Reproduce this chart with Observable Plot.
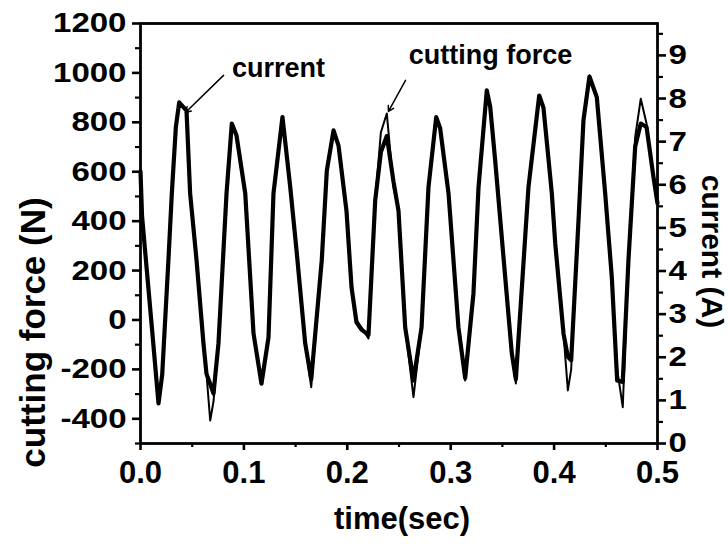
<!DOCTYPE html>
<html><head><meta charset="utf-8">
<script src="https://cdn.jsdelivr.net/npm/d3@7"></script>
<script src="https://cdn.jsdelivr.net/npm/@observablehq/plot@0.6"></script>
<style>
html,body{margin:0;padding:0;background:#fff;}
</style>
</head><body><div id="chart"></div>
<script>
// time (s)
const time = [0.000,0.0015,0.011,0.0174,0.021,0.027,0.0303,0.0342,0.0374,0.0445,
  0.048,0.0542,0.0609,0.0638,0.0674,0.0706,0.0754,0.0832,0.0883,0.0928,
  0.1013,0.1093,0.117,0.1238,0.1286,0.1373,0.1448,0.1509,0.1593,0.1651,
  0.1753,0.1802,0.1867,0.1915,0.1992,0.2041,0.2089,0.2137,0.2205,0.227,
  0.2325,0.2382,0.2447,0.2495,0.256,0.264,0.2718,0.2785,0.286,0.2898,
  0.2979,0.3075,0.314,0.322,0.3269,0.3349,0.3382,0.343,0.3527,0.3591,
  0.363,0.3752,0.3856,0.3897,0.3978,0.4011,0.4091,0.4133,0.4165,0.4236,
  0.4284,0.4342,0.4413,0.4494,0.4558,0.461,0.4664,0.4719,0.4784,0.4838,
  0.4894,0.4961,0.5];
// cutting force (N)
const cuttingForce = [600,420,-30,-338,-220,241,512,780,882,848,
  512,241,-95,-217,-407,-330,-95,512,795,747,
  512,-55,-257,-71,512,821,538,281,-95,-272,
  241,605,767,706,443,131,0,-30,-75,484,
  760,836,537,443,-30,-312,-30,537,821,775,
  512,-30,-245,107,537,929,862,646,173,-136,
  -257,537,909,860,512,310,-55,-285,-200,403,
  808,990,902,512,173,-200,-353,241,740,895,
  795,578,472];
// current (A)
const current = [6.31,5.27,2.69,0.93,1.60,4.25,5.80,7.34,7.91,7.72,
  5.80,4.25,2.32,1.62,1.38,1.16,2.32,5.80,7.42,7.15,
  5.80,2.55,1.39,2.46,5.80,7.57,5.95,4.48,2.32,1.49,
  4.25,6.33,7.26,6.91,5.40,3.62,2.81,2.64,2.52,5.64,
  6.76,7.13,6.07,5.40,2.69,1.46,2.69,5.94,7.57,7.31,
  5.80,2.69,1.52,3.48,5.94,8.19,7.81,6.57,3.86,2.09,
  1.49,5.94,8.07,7.79,5.80,4.64,2.55,2.01,1.93,5.17,
  7.50,8.51,8.03,5.80,3.86,1.46,1.43,4.25,6.88,7.42,
  7.34,6.18,5.57];

const forceTicks = [-400,-200,0,200,400,600,800,1000,1200];
const forceMinorTicks = [-500,-300,-100,100,300,500,700,900,1100];
const currentTicks = [0,1,2,3,4,5,6,7,8,9];
const currentMinorTicks = [0.5,1.5,2.5,3.5,4.5,5.5,6.5,7.5,8.5,9.5];
const timeTicks = [0,0.1,0.2,0.3,0.4,0.5];
const timeMinorTicks = [0.05,0.15,0.25,0.35,0.45];
const forceDomain = [-500,1200];
const currentDomain = [0,9.74];
const timeDomain = [0,0.5];

const annotationLabels = ["current","cutting force"];
const annotationT = [0.1335,0.3385];
const annotationF = [1020,1072];
const pointerFromT = [0.0803,0.2563];
const pointerFromF = [990,970];
const pointerToT = [0.0435,0.2398];
const pointerToF = [840,844];

const toForce = a => forceDomain[0] + (a - currentDomain[0]) / (currentDomain[1] - currentDomain[0]) * (forceDomain[1] - forceDomain[0]);

const forceData = time.map((t,i) => ({t, v: cuttingForce[i]}));
const currentData = time.map((t,i) => ({t, v: toForce(current[i])}));
const annotations = annotationLabels.map((s,i) => ({s, t: annotationT[i], f: annotationF[i]}));
const pointers = pointerFromT.map((t,i) => ({t1: t, f1: pointerFromF[i], t2: pointerToT[i], f2: pointerToF[i]}));

const font = "'Liberation Sans', Arial, sans-serif";

const chart = Plot.plot({
  width: 728,
  height: 546,
  marginLeft: 140,
  marginRight: 71,
  marginTop: 23,
  marginBottom: 103,
  style: {fontFamily: font, fontWeight: "bold", fontSize: "27px", color: "#000", background: "#fff"},
  x: {domain: timeDomain, label: null},
  y: {domain: forceDomain, label: null},
  marks: [
    Plot.line(currentData, {x: "t", y: "v", stroke: "#000", strokeWidth: 4.2, strokeLinejoin: "round"}),
    Plot.line(forceData, {x: "t", y: "v", stroke: "#000", strokeWidth: 2, strokeLinejoin: "round"}),
    Plot.frame({stroke: "#000", strokeWidth: 2.8}),
    Plot.axisY(forceTicks, {anchor: "left", tickSize: 8, tickPadding: 6, strokeWidth: 2.6, tickFormat: d => String(d), label: null, fontSize: 28}),
    Plot.axisY(forceMinorTicks, {anchor: "left", tickSize: 5, strokeWidth: 2.2, tickFormat: () => "", label: null}),
    Plot.axisY(currentTicks.map(toForce), {anchor: "right", tickSize: 8, tickPadding: 3, strokeWidth: 2.6, tickFormat: (d, i) => String(currentTicks[i]), label: null, fontSize: 28}),
    Plot.axisY(currentMinorTicks.map(toForce), {anchor: "right", tickSize: 5, strokeWidth: 2.2, tickFormat: () => "", label: null}),
    Plot.axisX(timeTicks, {anchor: "bottom", tickSize: 7, tickPadding: 10, strokeWidth: 2.6, tickFormat: d3.format(".1f"), label: null, fontSize: 31}),
    Plot.axisX(timeMinorTicks, {anchor: "bottom", tickSize: 4, strokeWidth: 2.2, tickFormat: () => "", label: null}),
    Plot.arrow(pointers, {x1: "t1", y1: "f1", x2: "t2", y2: "f2", stroke: "#000", strokeWidth: 1.5, headLength: 6}),
    Plot.text(annotations, {x: "t", y: "f", text: "s", fontSize: 27, fontWeight: "bold", lineAnchor: "middle"}),
    Plot.text(["cutting force (N)"], {frameAnchor: "left", textAnchor: "middle", rotate: -90, dx: -107, dy: 99, fontSize: 35, fontWeight: "bold", lineAnchor: "middle"}),
    Plot.text(["current (A)"], {frameAnchor: "right", textAnchor: "middle", rotate: 90, dx: 54, dy: 18, fontSize: 30, fontWeight: "bold", lineAnchor: "middle"}),
    Plot.text(["time(sec)"], {frameAnchor: "bottom", textAnchor: "middle", dx: 3, dy: 76, fontSize: 31, fontWeight: "bold", lineAnchor: "middle"})
  ]
});
// widen y tick labels horizontally, as in the reference
chart.querySelectorAll('g[aria-label="y-axis tick label"] text').forEach(t => {
  const tr = t.getAttribute("transform");
  if (tr) {
    t.setAttribute("transform", tr + " scale(1.18,1)");
  } else {
    const x = t.getAttribute("x") || 0, y = t.getAttribute("y") || 0;
    t.removeAttribute("x"); t.removeAttribute("y");
    t.setAttribute("transform", `translate(${x},${y}) scale(1.18,1)`);
  }
});
document.getElementById("chart").appendChild(chart);
</script>
</body></html>
